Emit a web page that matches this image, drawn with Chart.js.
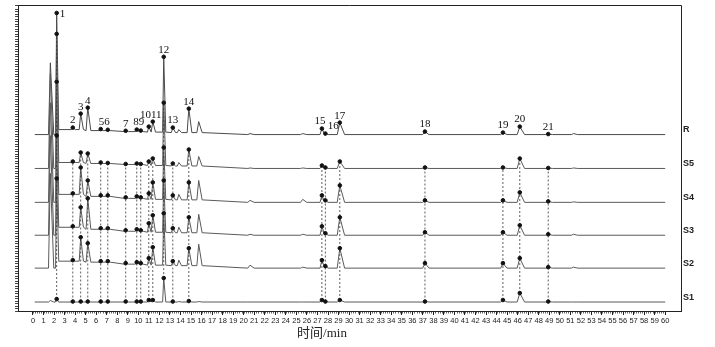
<!DOCTYPE html>
<html>
<head>
<meta charset="utf-8">
<script src="https://cdn.jsdelivr.net/npm/chart.js@4.4.1/dist/chart.umd.min.js"></script>
<style>
  html, body { margin: 0; padding: 0; background: #fff; }
  #wrap { width: 715px; height: 347px; }
</style>
</head>
<body>
<div id="wrap"><canvas id="chrom"></canvas></div>
<script>
// retention times (min) of every peak, the unnamed ones included
const peak_times = [1.65, 2.25, 3.78, 4.53, 5.2, 6.43, 7.1, 8.8, 9.85, 10.23, 10.99, 11.37, 12.41, 13.27, 13.84,
  14.79, 15.73, 20.6, 25.6, 27.42, 27.75, 29.12, 37.2, 44.6, 46.2, 48.9, 51.3];
const peak_names = ["", "1", "2", "3", "4", "5", "6", "7", "8", "9", "10", "11", "12", "13", "",
  "14", "", "", "", "15", "16", "17", "18", "19", "20", "21", ""];
// base width of each peak (min)
const peak_widths = [0.5, 0.3, 0.35, 0.4, 0.45, 0.35, 0.35, 0.4, 0.35, 0.35, 0.35, 0.4, 0.3, 0.4, 0.4,
  0.45, 0.5, 0.6, 0.6, 0.5, 0.4, 0.7, 0.6, 0.6, 0.7, 0.6, 0.6];

// peak heights for each trace (same order as peak_times)
const heights_R  = [72, 122, 7, 21, 27, 5.5, 4.8, 3.8, 5, 4, 8, 13, 78, 7, 5, 26, 13, 1, 1, 6, 1, 12, 3, 2, 8, 0.5, 1];
const heights_S5 = [95, 135, 7, 16, 15, 6, 5.5, 4.5, 5, 4.5, 7, 10, 66, 5, 6, 19, 12, 0.5, 0.5, 3, 1, 7, 1, 1, 10, 0.5, 0.5];
const heights_S4 = [100, 121, 9, 35, 22, 7, 7, 5, 6, 5, 9, 20, 55, 7, 8, 20, 22, 2, 3, 7, 2, 17, 2, 2, 10, 1, 0.5];
const heights_S3 = [100, 100, 9, 28, 37, 7, 7, 5, 6, 5, 12, 20, 55, 7, 8, 18, 21, 1, 1, 9, 2, 18, 3, 3, 10, 1, 1];
const heights_S2 = [95, 90, 8, 31, 25, 7, 7, 5, 6, 5, 10, 21, 55, 7, 8, 20, 24, 3, 1, 8, 2, 20, 5, 5, 10, 1, 1];
const heights_S1 = [1.5, 3, 0.5, 0.5, 0.5, 0.5, 0.5, 0.5, 0.5, 0.5, 2, 2, 24, 0.5, 0.5, 1, 0.5, 0, 0, 2, 0.5, 2, 0.5, 2, 9, 0.5, 0];

// baseline drift after the solvent front (level holds from each start time)
const drift_start = [2.4, 4.8, 7.5, 10.5, 13, 16.5, 20];
const drift_R  = [5, 4, 3, 2.5, 2, 1, 0];
const drift_S5 = [6, 5, 4, 3, 2.5, 1, 0];
const drift_S4 = [8, 6, 4, 3, 2.5, 1, 0];
const drift_S3 = [8, 6, 4, 3, 2.5, 1, 0];
const drift_S2 = [7, 6, 4, 3, 2.5, 1, 0];
const drift_S1 = [0, 0, 0, 0, 0, 0, 0];

// stacking of the traces, bottom to top
const trace_names = ["S1", "S2", "S3", "S4", "S5", "R"];
const trace_offsets = [9, 43, 76, 109, 143, 177];
const trace_heights = [heights_S1, heights_S2, heights_S3, heights_S4, heights_S5, heights_R];
const trace_drifts = [drift_S1, drift_S2, drift_S3, drift_S4, drift_S5, drift_R];

const run_start = 0.17;
const run_end = 60;
const x_tick_values = [];
for (let i = 0; i <= 60; i++) x_tick_values.push(i);

// which peak labels are written together above the R trace
const label_groups = [
  { peaks: [1] }, { peaks: [2] }, { peaks: [3] }, { peaks: [4] }, { peaks: [5, 6] }, { peaks: [7] },
  { peaks: [8, 9] }, { peaks: [10, 11] }, { peaks: [12] }, { peaks: [13] }, { peaks: [15] },
  { peaks: [19], align: "right" }, { peaks: [20], align: "left" }, { peaks: [21] }, { peaks: [22] },
  { peaks: [23] }, { peaks: [24] }, { peaks: [25] },
];

function driftAt(levels, t) {
  let level = 0;
  for (let i = 0; i < drift_start.length; i++) {
    if (t >= drift_start[i]) level = levels[i];
  }
  return level;
}

// building the line of one trace from its peak table
function buildTrace(k) {
  const off = trace_offsets[k];
  const h = trace_heights[k];
  const lv = trace_drifts[k];
  let pts = [{ x: run_start, y: off }];
  peak_times.forEach((t, i) => {
    let left = t - 0.35 * peak_widths[i];
    let last = pts[pts.length - 1];
    if (last.x > left) {
      // overlapping peaks: one shared valley between them
      const mid = (last.x + left) / 2;
      pts.pop();
      pts.push({ x: mid, y: off + driftAt(lv, mid) + 0.5 });
    } else {
      pts.push({ x: left, y: off + driftAt(lv, left) });
    }
    pts.push({ x: t, y: off + h[i] });
    const right = t + 0.65 * peak_widths[i];
    pts.push({ x: right, y: off + driftAt(lv, right) });
  });
  pts.push({ x: run_end, y: off });
  return pts;
}

const named = [];
peak_names.forEach((n, i) => { if (n !== "") named.push(i); });

let datasets = [];

// traces
trace_names.forEach((name, k) => {
  datasets.push({
    type: "line",
    label: name,
    data: buildTrace(k),
    borderColor: k === 5 ? "#4a4a4a" : "#5a5a5a",
    borderWidth: 1,
    pointRadius: 0,
    tension: 0,
    order: 3,
  });
});

// dotted lines joining the same peak from S1 up to S5
named.forEach((i) => {
  let pts = [];
  for (let k = 0; k < 5; k++) {
    pts.push({ x: peak_times[i], y: trace_offsets[k] + trace_heights[k][i] });
  }
  datasets.push({
    type: "line",
    label: "link " + peak_names[i],
    data: pts,
    borderColor: "#333",
    borderWidth: 0.8,
    borderDash: [2, 2],
    pointRadius: 0,
    order: 2,
  });
});

// peak markers on every trace
trace_names.forEach((name, k) => {
  datasets.push({
    type: "scatter",
    label: "marks " + name,
    data: named.map((i) => ({ x: peak_times[i], y: trace_offsets[k] + trace_heights[k][i] })),
    backgroundColor: "#111",
    borderColor: "#111",
    pointRadius: 1.8,
    order: 1,
  });
});

const decoPlugin = {
  id: "deco",
  afterDraw(chart) {
    const ctx = chart.ctx;
    const area = chart.chartArea;
    const xs = chart.scales.x;
    const ys = chart.scales.y;
    ctx.save();
    // frame
    ctx.strokeStyle = "#222";
    ctx.lineWidth = 1;
    ctx.beginPath();
    ctx.moveTo(area.left, area.top + 0.5);
    ctx.lineTo(area.right + 0.5, area.top + 0.5);
    ctx.lineTo(area.right + 0.5, area.bottom);
    ctx.stroke();

    // minor ticks on the time axis
    ctx.lineWidth = 0.7;
    ctx.beginPath();
    for (let v = 0; v <= 60.001; v += 0.2) {
      const px = Math.round(xs.getPixelForValue(v)) + 0.5;
      ctx.moveTo(px, area.bottom);
      ctx.lineTo(px, area.bottom + 2.5);
    }
    ctx.stroke();

    // peak numbers above the R trace
    const rk = 5;
    ctx.fillStyle = "#111";
    ctx.font = "11px 'Liberation Serif', serif";
    label_groups.forEach((g) => {
      const text = g.peaks.map((i) => peak_names[i]).join("");
      let tx = 0;
      let top = 0;
      g.peaks.forEach((i) => {
        tx += peak_times[i];
        top = Math.max(top, trace_offsets[rk] + trace_heights[rk][i]);
      });
      tx = xs.getPixelForValue(tx / g.peaks.length);
      const ty = ys.getPixelForValue(top);
      if (ty - 12 < area.top) {
        ctx.textAlign = "left";
        ctx.textBaseline = "middle";
        ctx.fillText(text, tx + 3, ty + 1);
        return;
      }
      ctx.textBaseline = "bottom";
      ctx.textAlign = "center";
      let dx = 0;
      if (g.align === "right") dx = -2;
      if (g.align === "left") dx = 8;
      ctx.fillText(text, tx + dx, ty - 1.5);
    });

    // trace names at the right
    ctx.font = "bold 9px 'Liberation Sans', Arial, sans-serif";
    ctx.textAlign = "left";
    ctx.textBaseline = "middle";
    ctx.fillStyle = "#222";
    trace_names.forEach((name, k) => {
      ctx.fillText(name, area.right + 2, ys.getPixelForValue(trace_offsets[k]) - 5);
    });

    // axis title
    ctx.font = "13px 'Liberation Serif', 'Noto Sans CJK SC', serif";
    ctx.textAlign = "center";
    ctx.textBaseline = "middle";
    ctx.fillStyle = "#222";
    ctx.fillText("时间/min", 322, 334);
    ctx.restore();
  },
};

const config = {
  data: { datasets: datasets },
  options: {
    responsive: true,
    maintainAspectRatio: false,
    animation: false,
    layout: { padding: { left: 15, right: 34, top: 4, bottom: 21 } },
    plugins: { legend: { display: false }, tooltip: { enabled: false } },
    scales: {
      x: {
        type: "linear",
        min: -1.42,
        max: 61.5,
        afterBuildTicks: (axis) => {
          axis.ticks = x_tick_values.map((v) => ({ value: v }));
        },
        ticks: {
          autoSkip: false,
          maxRotation: 0,
          padding: 1,
          color: "#222",
          font: { family: "'Liberation Sans', Arial, sans-serif", size: 7.5 },
          callback: (v) => v,
        },
        grid: { drawOnChartArea: false, tickLength: 4, color: "#222" },
        border: { color: "#222", width: 1 },
      },
      y: {
        type: "linear",
        min: 0,
        max: 307,
        ticks: { display: false, stepSize: 2.5, autoSkip: false },
        grid: { drawOnChartArea: false, tickLength: 3, color: "#444" },
        border: { color: "#222", width: 1 },
      },
    },
  },
  plugins: [decoPlugin],
};

const ctx = document.getElementById("chrom").getContext("2d");
const myChart = new Chart(ctx, config);
</script>
</body>
</html>
